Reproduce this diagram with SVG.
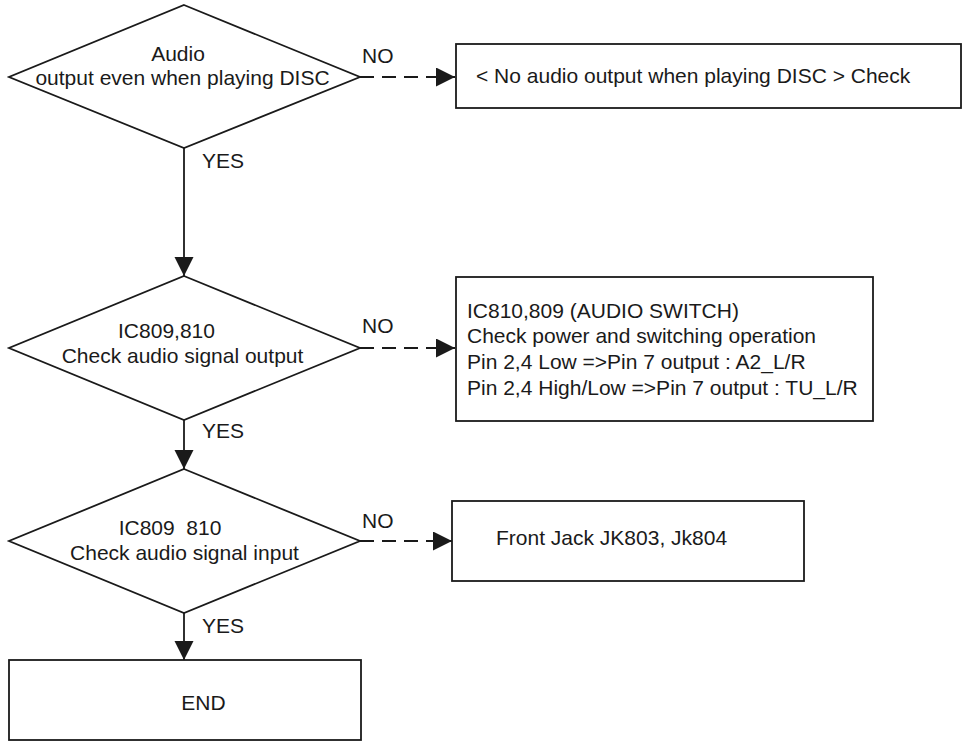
<svg xmlns="http://www.w3.org/2000/svg" width="971" height="742" viewBox="0 0 971 742">
<style>
.shape{fill:#fff;stroke:#1a1a1a;stroke-width:1.8}
.t{font-family:"Liberation Sans",Arial,sans-serif;font-size:21px;fill:#1a1a1a}
.m{text-anchor:middle}
.solid{stroke:#1a1a1a;stroke-width:1.8;fill:none}
.dash{stroke:#1a1a1a;stroke-width:1.8;fill:none;stroke-dasharray:14 8}
</style>
<defs>
<marker id="ah" markerUnits="userSpaceOnUse" markerWidth="20" markerHeight="20" refX="19" refY="9.5" orient="auto">
<path d="M0,0 L19,9.5 L0,19 z" fill="#1a1a1a"/>
</marker>
</defs>
<g id="connectors">
<line class="dash" x1="360" y1="77" x2="455" y2="77" marker-end="url(#ah)"/>
<line class="solid" x1="184" y1="148" x2="184" y2="276" marker-end="url(#ah)"/>
<line class="dash" x1="360" y1="348" x2="455" y2="348" marker-end="url(#ah)"/>
<line class="solid" x1="184" y1="420" x2="184" y2="469" marker-end="url(#ah)"/>
<line class="dash" x1="360" y1="541" x2="452" y2="541" marker-end="url(#ah)"/>
<line class="solid" x1="184" y1="613" x2="184" y2="660" marker-end="url(#ah)"/>
<text class="t" x="362" y="63">NO</text>
<text class="t" x="202" y="168">YES</text>
<text class="t" x="362" y="333">NO</text>
<text class="t" x="202" y="438">YES</text>
<text class="t" x="362" y="528">NO</text>
<text class="t" x="202" y="633">YES</text>
</g>
<g id="d1">
<polygon class="shape" points="184,5 360,77 184,148 9,77"/>
<text class="t m" x="178" y="61">Audio</text>
<text class="t m" x="182.5" y="85">output even when playing DISC</text>
</g>
<g id="b1">
<rect class="shape" x="456" y="44" width="505" height="64"/>
<text class="t" x="476" y="83">&lt; No audio output when playing DISC &gt; Check</text>
</g>
<g id="d2">
<polygon class="shape" points="184,276 360,348 184,420 9,348"/>
<text class="t m" x="166.5" y="338">IC809,810</text>
<text class="t m" x="182.5" y="363">Check audio signal output</text>
</g>
<g id="b2">
<rect class="shape" x="456" y="277" width="417" height="144"/>
<text class="t" x="467" y="318">IC810,809 (AUDIO SWITCH)</text>
<text class="t" x="467" y="343">Check power and switching operation</text>
<text class="t" x="467" y="369">Pin 2,4 Low =&gt;Pin 7 output : A2_L/R</text>
<text class="t" x="467" y="395">Pin 2,4 High/Low =&gt;Pin 7 output : TU_L/R</text>
</g>
<g id="d3">
<polygon class="shape" points="184,469 360,541 184,613 9,541"/>
<text class="t m" x="170" y="535" xml:space="preserve">IC809  810</text>
<text class="t m" x="184.5" y="560">Check audio signal input</text>
</g>
<g id="b3">
<rect class="shape" x="452" y="501" width="352" height="80"/>
<text class="t" x="496" y="545">Front Jack JK803, Jk804</text>
</g>
<g id="end">
<rect class="shape" x="9" y="660" width="352" height="80"/>
<text class="t m" x="203.5" y="710">END</text>
</g>
</svg>
